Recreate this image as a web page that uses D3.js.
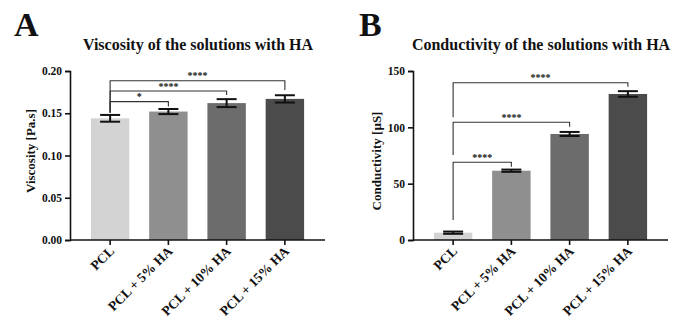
<!DOCTYPE html>
<html>
<head>
<meta charset="utf-8">
<script src="https://cdn.jsdelivr.net/npm/d3@7"></script>
<style>
  html, body { margin: 0; padding: 0; background: #fff; }
  svg { display: block; }
  svg text { font-family: "Liberation Serif", Tinos, "Times New Roman", Times, "DejaVu Serif", serif !important; font-weight: bold; fill: #111; }
</style>
</head>
<body>
<svg id="chart" width="693" height="330"></svg>
<script>
const categories = ["PCL", "PCL + 5% HA", "PCL + 10% HA", "PCL + 15% HA"];
const viscosity = [0.144, 0.152, 0.162, 0.167];
const viscosityErr = [0.0040, 0.0030, 0.0047, 0.0043];
const conductivity = [6.5, 61.5, 94.1, 129.6];
const conductivityErr = [1.0, 1.0, 1.8, 2.5];
const viscosityTicks = [0, 0.05, 0.10, 0.15, 0.20];
const conductivityTicks = [0, 50, 100, 150];
const barColors = ["#d3d3d3", "#8f8f8f", "#6c6c6c", "#4b4b4b"];
const viscosityBrackets = [
  { from: 0, to: 3, level: 0.1885, rightEnd: 0.1775, leftEnd: 0.1506, label: "****" },
  { from: 0, to: 2, level: 0.1763, rightEnd: 0.1716, leftEnd: 0.1506, label: "****" },
  { from: 0, to: 1, level: 0.1637, rightEnd: 0.1580, leftEnd: 0.1506, label: "*" }
];
const conductivityBrackets = [
  { from: 0, to: 3, level: 139.6, rightEnd: 136.0, leftEnd: 108.9, label: "****" },
  { from: 0, to: 2, level: 104.5, rightEnd: 100.6, leftEnd: 75.4, label: "****" },
  { from: 0, to: 1, level: 69.0, rightEnd: 65.0, leftEnd: 17.8, label: "****" }
];

const svg = d3.select("#chart");

function panel(opts) {
  const g = svg.append("g");
  const x0 = opts.axisX;
  const x = d3.scaleBand().domain(categories).range([x0 + 11, x0 + 244]).paddingInner(0.34).paddingOuter(0.17);
  const y = d3.scaleLinear().domain(opts.domain).range([240, 71]);

  g.append("text").attr("x", opts.letterX).attr("y", 36).style("font-size", "34px").text(opts.letter);
  g.append("text").attr("x", opts.titleX).attr("y", 50).attr("text-anchor", "middle")
    .style("font-size", "16px").text(opts.title);

  g.selectAll("rect.bar").data(opts.values).join("rect")
    .attr("class", "bar")
    .attr("x", (d, i) => x(categories[i]))
    .attr("width", x.bandwidth())
    .attr("y", d => y(d))
    .attr("height", d => y(0) - y(d))
    .attr("fill", (d, i) => barColors[i]);

  const capW = x.bandwidth() * 0.26;
  opts.values.forEach((v, i) => {
    const cx = x(categories[i]) + x.bandwidth() / 2;
    const e = opts.errors[i];
    const eg = g.append("g").attr("stroke", "#111").attr("stroke-width", 2);
    eg.append("line").attr("x1", cx).attr("x2", cx).attr("y1", y(v - e)).attr("y2", y(v + e));
    eg.append("line").attr("x1", cx - capW).attr("x2", cx + capW).attr("y1", y(v + e)).attr("y2", y(v + e));
    eg.append("line").attr("x1", cx - capW).attr("x2", cx + capW).attr("y1", y(v - e)).attr("y2", y(v - e));
  });

  opts.brackets.forEach(b => {
    const xa = x(categories[b.from]) + x.bandwidth() / 2;
    const xb = x(categories[b.to]) + x.bandwidth() / 2;
    const bg = g.append("g").attr("stroke", "#333").attr("stroke-width", 1.1).attr("fill", "none");
    bg.append("path").attr("d", `M${xa},${y(b.leftEnd)}V${y(b.level)}H${xb}V${y(b.rightEnd)}`);
    g.append("text").attr("x", (xa + xb) / 2).attr("y", y(b.level) - 1.5).attr("text-anchor", "middle")
      .style("font-size", "10px").text(b.label);
  });

  const ya = g.append("g").attr("transform", `translate(${x0},0)`)
    .call(d3.axisLeft(y).tickValues(opts.ticks).tickFormat(opts.fmt).tickSize(5).tickPadding(3));
  ya.attr("font-family", null).attr("font-size", null);
  ya.select(".domain").attr("stroke", "#111").attr("stroke-width", 1.6);
  ya.selectAll(".tick line").attr("stroke", "#111").attr("stroke-width", 1.6);
  ya.selectAll(".tick text").style("font-size", "11.5px").attr("fill", "#111");

  const xa = g.append("g").attr("transform", `translate(0,240)`)
    .call(d3.axisBottom(x).tickSize(5).tickFormat(""));
  xa.select(".domain").remove();
  xa.selectAll(".tick line").attr("stroke", "#111").attr("stroke-width", 1.6);
  g.append("line").attr("x1", x0).attr("x2", x0 + 255).attr("y1", 240).attr("y2", 240)
    .attr("stroke", "#111").attr("stroke-width", 1.6);
  categories.forEach(c => {
    const cx = x(c) + x.bandwidth() / 2;
    g.append("text").attr("text-anchor", "end")
      .attr("transform", `translate(${cx + 5},${252}) rotate(-45)`)
      .style("font-size", "13.5px").text(c);
  });

  g.append("text").attr("text-anchor", "middle")
    .attr("transform", `translate(${opts.yTitleX},${opts.yTitleY}) rotate(-90)`)
    .style("font-size", "13px").text(opts.yTitle);
}

panel({
  axisX: 70, letter: "A", letterX: 14, title: "Viscosity of the solutions with HA", titleX: 198,
  domain: [0, 0.2], values: viscosity, errors: viscosityErr, ticks: viscosityTicks,
  fmt: d3.format(".2f"), brackets: viscosityBrackets,
  yTitle: "Viscosity [Pa.s]", yTitleX: 35, yTitleY: 151
});
panel({
  axisX: 413, letter: "B", letterX: 359, title: "Conductivity of the solutions with HA", titleX: 541,
  domain: [0, 150], values: conductivity, errors: conductivityErr, ticks: conductivityTicks,
  fmt: d3.format("d"), brackets: conductivityBrackets,
  yTitle: "Conductivity [µS]", yTitleX: 381, yTitleY: 161
});
</script>
</body>
</html>
